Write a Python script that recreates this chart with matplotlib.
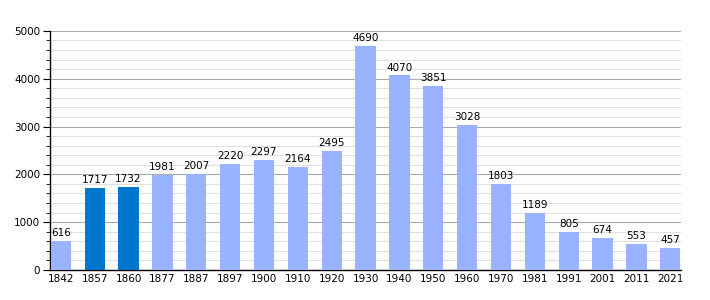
import numpy as np
import matplotlib.pyplot as plt
from matplotlib.ticker import MultipleLocator

years = ["1842", "1857", "1860", "1877", "1887", "1897", "1900", "1910", "1920", "1930",
         "1940", "1950", "1960", "1970", "1981", "1991", "2001", "2011", "2021"]
population = [616, 1717, 1732, 1981, 2007, 2220, 2297, 2164, 2495, 4690,
              4070, 3851, 3028, 1803, 1189, 805, 674, 553, 457]
highlight = ["1857", "1860"]

colors = ["#0077cc" if y in highlight else "#99b3ff" for y in years]

fig = plt.figure(figsize=(7.1, 3.0), dpi=100)
ax = fig.add_axes([0.0704, 0.1, 0.889, 0.797])

x = np.arange(len(years))
ax.bar(x, population, width=0.6, color=colors, zorder=3)
for xi, v in zip(x, population):
    ax.text(xi, v + 60, str(v), ha="center", va="bottom", fontsize=7.5, zorder=4)

ax.set_xlim(-0.32, len(years) - 0.68)
ax.set_ylim(0, 5000)
ax.set_xticks(x)
ax.set_xticklabels(years, fontsize=7.5)
ax.tick_params(axis="x", length=0, pad=3)
ax.yaxis.set_major_locator(MultipleLocator(1000))
ax.yaxis.set_minor_locator(MultipleLocator(200))
ax.tick_params(axis="y", which="major", length=5, labelsize=7.5, pad=2)
ax.tick_params(axis="y", which="minor", length=3)
ax.grid(axis="y", which="major", color="#aaaaaa", linewidth=0.8, zorder=0)
ax.grid(axis="y", which="minor", color="#e0e0e0", linewidth=0.8, zorder=0)
for s in ["top", "right"]:
    ax.spines[s].set_visible(False)
ax.spines["left"].set_linewidth(1)
ax.spines["bottom"].set_linewidth(1)

fig.savefig("out.png", dpi=100)
